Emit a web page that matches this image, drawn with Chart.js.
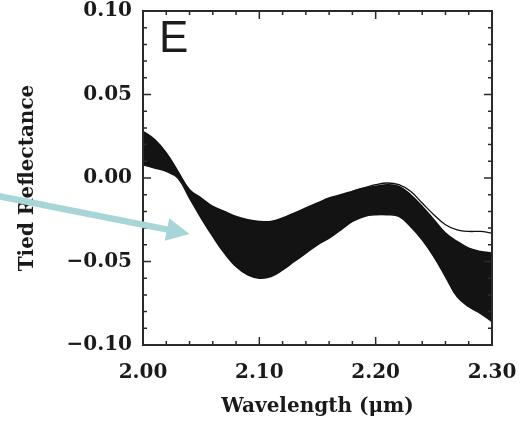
<!DOCTYPE html>
<html>
<head>
<meta charset="utf-8">
<script src="https://cdn.jsdelivr.net/npm/chart.js@4"></script>
<style>
  html, body { margin: 0; padding: 0; background: #fff; }
</style>
</head>
<body>
<canvas id="tiedChart" width="525" height="421"></canvas>
<script>
const wavelengths = [2.00, 2.01, 2.02, 2.03, 2.04, 2.05, 2.06, 2.07, 2.08, 2.09,
                     2.10, 2.11, 2.12, 2.13, 2.14, 2.15, 2.16, 2.17, 2.18, 2.19,
                     2.20, 2.21, 2.22, 2.23, 2.24, 2.25, 2.26, 2.27, 2.28, 2.29, 2.30];

// upper and lower edge of the bundle of spectra
const bandTop = [0.028, 0.023, 0.015, 0.004, -0.007, -0.012, -0.017, -0.020, -0.023, -0.025,
                 -0.026, -0.026, -0.024, -0.021, -0.018, -0.015, -0.012, -0.010, -0.008, -0.006,
                 -0.005, -0.004, -0.005, -0.010, -0.017, -0.025, -0.033, -0.038, -0.042, -0.044, -0.045];
const bandBottom = [0.008, 0.006, 0.004, 0.000, -0.012, -0.024, -0.035, -0.045, -0.053, -0.058,
                    -0.060, -0.059, -0.055, -0.050, -0.045, -0.040, -0.036, -0.031, -0.026, -0.023,
                    -0.022, -0.022, -0.023, -0.029, -0.037, -0.047, -0.059, -0.071, -0.077, -0.081, -0.086];

// single spectra visible as light lines near the edges
const topEdgeLine = [null, null, null, null, null, null, -0.019, -0.022, -0.025, -0.027,
                     -0.028, -0.028, -0.026, -0.023, -0.020, -0.017, -0.014, -0.012, -0.010, -0.008,
                     -0.007, -0.006, -0.007, null, null, null, null, null, null, null, null];
const bottomEdgeLine = [null, null, null, null, null, -0.022, -0.033, -0.043, -0.051, -0.056,
                        -0.058, -0.057, -0.053, -0.048, -0.043, -0.038, -0.034, -0.029, -0.025, -0.022,
                        -0.021, -0.021, -0.022, -0.028, -0.035, -0.045, -0.057, -0.069, -0.075, -0.079, -0.084];
const outlierLine = [null, null, null, null, null, null, null, null, null, null,
                     null, null, null, null, null, null, null, null, -0.008, -0.006,
                     -0.004, -0.003, -0.004, -0.008, -0.015, -0.022, -0.028, -0.031, -0.032, -0.032, -0.033];

const xTicks = [2.00, 2.10, 2.20, 2.30];
const yTicks = [-0.10, -0.05, 0.00, 0.05, 0.10];

const labelFont = { family: '"DejaVu Serif"', size: 20, weight: 'bold' };

function fmt(v) {
  return (v < -1e-9 ? '\u2212' : '') + Math.abs(v).toFixed(2);
}

const frame = {
  id: 'frame',
  afterDraw(chart) {
    const { ctx, chartArea: a, scales: { x, y } } = chart;
    ctx.save();
    ctx.strokeStyle = '#2a2a2a';
    ctx.lineWidth = 2;
    ctx.strokeRect(a.left, a.top, a.right - a.left, a.bottom - a.top);

    // inward ticks on all four sides
    ctx.lineWidth = 1.5;
    ctx.beginPath();
    for (let i = 0; i <= 15; i++) {
      const px = x.getPixelForValue(2 + i * 0.02);
      const len = i % 5 === 0 ? 8 : 4;
      ctx.moveTo(px, a.bottom); ctx.lineTo(px, a.bottom - len);
      ctx.moveTo(px, a.top); ctx.lineTo(px, a.top + len);
    }
    for (let i = 0; i <= 20; i++) {
      const py = y.getPixelForValue(-0.1 + i * 0.01);
      const len = i % 5 === 0 ? 8 : 4;
      ctx.moveTo(a.left, py); ctx.lineTo(a.left + len, py);
      ctx.moveTo(a.right, py); ctx.lineTo(a.right - len, py);
    }
    ctx.stroke();

    // panel letter
    ctx.fillStyle = '#1c1c1c';
    ctx.font = '44px "Liberation Sans"';
    ctx.textBaseline = 'alphabetic';
    ctx.fillText('E', a.left + 16, a.top + 41);

    // pointer arrow
    const tx = x.getPixelForValue(2.04), ty = y.getPixelForValue(-0.0335);
    const sx = -2, sy = ty - 38;
    const ang = Math.atan2(ty - sy, tx - sx);
    const head = 23, half = 11.5;
    const bx = tx - head * Math.cos(ang), by = ty - head * Math.sin(ang);
    ctx.strokeStyle = '#a8d6d8';
    ctx.fillStyle = '#a8d6d8';
    ctx.lineWidth = 6.5;
    ctx.beginPath();
    ctx.moveTo(sx, sy);
    ctx.lineTo(bx + 2 * Math.cos(ang), by + 2 * Math.sin(ang));
    ctx.stroke();
    ctx.beginPath();
    ctx.moveTo(tx, ty);
    ctx.lineTo(bx + half * Math.sin(ang), by - half * Math.cos(ang));
    ctx.lineTo(bx - half * Math.sin(ang), by + half * Math.cos(ang));
    ctx.closePath();
    ctx.fill();
    ctx.restore();
  }
};

new Chart(document.getElementById('tiedChart'), {
  type: 'line',
  data: {
    labels: wavelengths,
    datasets: [
      {
        data: wavelengths.map((w, i) => ({ x: w, y: bandTop[i] })),
        borderColor: '#111', borderWidth: 1.5, backgroundColor: '#131313',
        fill: '+1', pointRadius: 0, tension: 0.4
      },
      {
        data: wavelengths.map((w, i) => ({ x: w, y: bandBottom[i] })),
        borderColor: '#111', borderWidth: 1.5, fill: false, pointRadius: 0, tension: 0.4
      },
      {
        data: wavelengths.map((w, i) => ({ x: w, y: topEdgeLine[i] })),
        borderColor: 'rgba(255,255,255,0.85)', borderWidth: 1, fill: false, pointRadius: 0, tension: 0.4
      },
      {
        data: wavelengths.map((w, i) => ({ x: w, y: bottomEdgeLine[i] })),
        borderColor: 'rgba(200,200,200,0.8)', borderWidth: 1, fill: false, pointRadius: 0, tension: 0.4
      },
      {
        data: wavelengths.map((w, i) => ({ x: w, y: outlierLine[i] })),
        borderColor: '#111', borderWidth: 1.3, fill: false, pointRadius: 0, tension: 0.4
      }
    ]
  },
  options: {
    responsive: false,
    animation: false,
    events: [],
    layout: { padding: { top: 11, right: 33, bottom: 0, left: 0 } },
    plugins: { legend: { display: false }, tooltip: { enabled: false } },
    scales: {
      x: {
        type: 'linear', min: 2.0, max: 2.3,
        afterBuildTicks: s => { s.ticks = xTicks.map(v => ({ value: v })); },
        afterFit: s => { s.height = 76; s.paddingLeft = 0; s.paddingRight = 0; },
        grid: { display: false, drawTicks: false },
        border: { display: false },
        ticks: { padding: 16, color: '#1a1a1a', font: labelFont, callback: v => fmt(v) },
        title: { display: true, text: 'Wavelength (\u03bcm)', color: '#1a1a1a', font: labelFont, padding: { top: 0, bottom: 2 } }
      },
      y: {
        min: -0.1, max: 0.1,
        afterBuildTicks: s => { s.ticks = yTicks.map(v => ({ value: v })); },
        afterFit: s => { s.width = 143; s.paddingTop = 0; s.paddingBottom = 0; },
        grid: { display: false, drawTicks: false },
        border: { display: false },
        ticks: { padding: 11, color: '#1a1a1a', font: labelFont, callback: v => fmt(v) },
        title: { display: true, text: 'Tied Reflectance', color: '#1a1a1a', font: labelFont, padding: { top: 16, bottom: 0 } }
      }
    }
  },
  plugins: [frame]
});
</script>
</body>
</html>
